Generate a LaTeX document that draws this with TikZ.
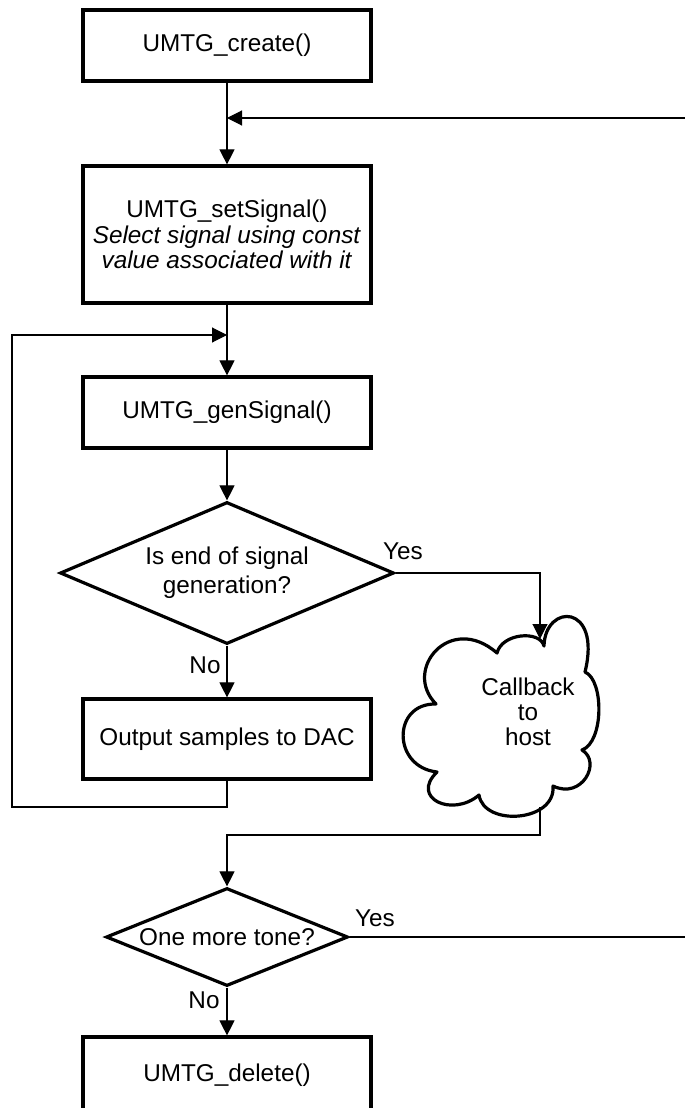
\documentclass[tikz,border=0pt]{standalone}
\usepackage{fontspec}
\setmainfont{Liberation Sans}
\usetikzlibrary{shapes.geometric,arrows.meta}
\begin{document}
\begin{tikzpicture}[x=1pt,y=-1pt,
  txt/.style={font=\fontsize{24.3}{25.5}\selectfont},
  box/.style={txt, draw, line width=3.2pt, rectangle, minimum width=288pt, inner sep=0pt, align=center},
  dec/.style={txt, draw, line width=3.2pt, diamond, inner sep=0pt, align=center},
  conn/.style={line width=1.1pt},
  arr/.style={conn, -{Triangle[length=15pt,width=15pt]}},
  lbl/.style={txt, inner sep=0pt},
  cloudline/.style={line width=3.2pt, line join=round}
]
\useasboundingbox (0,0) rectangle (685,1108);

% nodes
\node[box, minimum height=71pt] (create) at (227,45.5) {UMTG\_create()};
\node[box, minimum height=137pt] (setsig) at (227,234.5) {UMTG\_setSignal()\\\textit{Select signal using const}\\\textit{value associated with it}};
\node[box, minimum height=71pt] (gensig) at (227,412.5) {UMTG\_genSignal()};
\node[dec, minimum width=334pt, minimum height=142pt, shape aspect=2.35, font=\fontsize{24.3}{29}\selectfont] (endq) at (227,573) {Is end of signal\\generation?};
\node[box, minimum height=80pt] (out) at (227,739) {Output samples to DAC};
\node[dec, minimum width=242pt, minimum height=98pt, shape aspect=2.47] (moreq) at (227,937) {One more tone?};
\node[box, minimum height=76pt] (del) at (227,1075) {\raisebox{1.5pt}{UMTG\_delete()}};

% cloud
\draw[cloudline] (544,646)
  .. controls (545,603) and (602,603) .. (585,672)
  .. controls (604,680) and (604,742) .. (582,750)
  .. controls (602,762) and (582,800) .. (553,786)
  .. controls (556,822) and (484,827) .. (479,795)
  .. controls (452,818) and (410,798) .. (437,772)
  .. controls (392,767) and (392,703) .. (436,704)
  .. controls (402,670) and (450,612) .. (497,653)
  .. controls (502,633) and (540,630) .. (544,646) -- cycle;
\node[lbl, align=center, font=\fontsize{24.3}{25}\selectfont] (cb) at (528,712) {Callback\\to\\host};
\coordinate (cin) at (540,639);
\coordinate (cout) at (540,807);

% junctions
\coordinate (j1) at (227,118);
\coordinate (j2) at (227,335);
\coordinate (rtop) at (688,118);
\coordinate (rbot) at (688,937);
\coordinate (lbot) at (12,807);
\coordinate (ltop) at (12,335);
\coordinate (ybend) at (540,573);
\coordinate (cbend) at (540,835);
\coordinate (dbend) at (227,835);
\coordinate (obend) at (227,807);

% connectors
\draw[arr] (create.south) -- (setsig.north);
\draw[arr] (moreq.east) -- (rbot) -- (rtop) -- (j1);
\draw[arr] (setsig.south) -- (gensig.north);
\draw[arr] (out.south) -- (obend) -- (lbot) -- (ltop) -- (j2);
\draw[arr] (gensig.south) -- (endq.north);
\draw[arr] (endq.south) -- (out.north);
\draw[arr] (endq.east) -- (ybend) -- (cin);
\draw[arr] (cout) -- (cbend) -- (dbend) -- (moreq.north);
\draw[arr] (moreq.south) -- (del.north);

% labels
\node[lbl] (yes1) at (403,551) {Yes};
\node[lbl] (no1) at (205,665) {No};
\node[lbl] (yes2) at (375,918) {Yes};
\node[lbl] (no2) at (204,1000) {No};
\end{tikzpicture}
\end{document}
